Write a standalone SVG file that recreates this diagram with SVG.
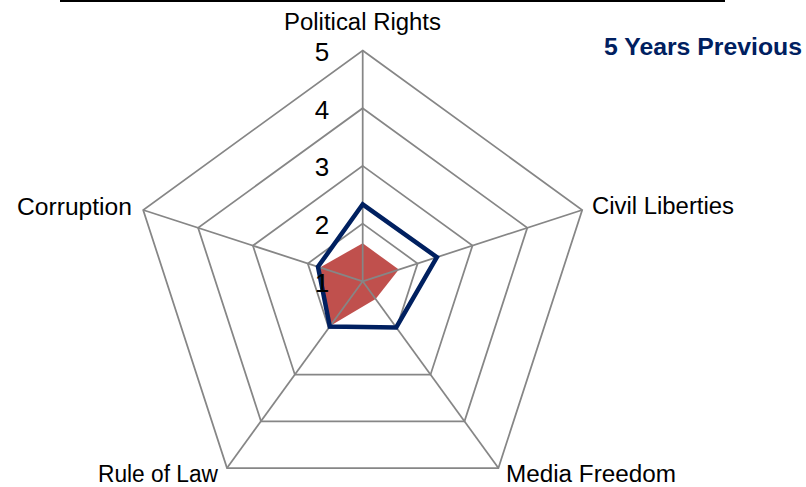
<svg xmlns="http://www.w3.org/2000/svg" width="806" height="487" viewBox="0 0 806 487">
  <style>
    .grid { fill: none; stroke: #868686; stroke-width: 1.75; stroke-linejoin: miter; }
    .lbl { font-family: "Liberation Sans", Arial, sans-serif; font-size: 23.5px; fill: #000; }
    .num { font-family: "Liberation Sans", Arial, sans-serif; font-size: 26px; fill: #000; text-anchor: middle; }
    .legend { font-family: "Liberation Sans", Arial, sans-serif; font-size: 24.5px; font-weight: bold; fill: #002060; }
  </style>
  <rect width="806" height="487" fill="#ffffff"/>
  <rect x="60" y="0" width="665" height="2" fill="#000000"/>

  <g id="current-series">
    <polygon points="362.7,243.3 398.8,269.6 375.6,299.1 330.4,325.8 319.9,267.4" fill="#C0504D"/>
  </g>

  <g id="grid">
    <polygon class="grid" points="362.7,223.6 417.6,263.5 396.6,328.0 328.8,328.0 307.8,263.5"/>
    <polygon class="grid" points="362.7,165.9 472.5,245.6 430.5,374.7 294.9,374.7 252.9,245.6"/>
    <polygon class="grid" points="362.7,108.2 527.3,227.8 464.5,421.3 261.0,421.3 198.1,227.8"/>
    <polygon class="grid" points="362.7,50.5 582.2,210.0 498.4,468.0 227.0,468.0 143.2,210.0"/>
    <line class="grid" x1="362.7" y1="281.3" x2="362.7" y2="50.5"/>
    <line class="grid" x1="362.7" y1="281.3" x2="582.2" y2="210.0"/>
    <line class="grid" x1="362.7" y1="281.3" x2="498.4" y2="468.0"/>
    <line class="grid" x1="362.7" y1="281.3" x2="227.0" y2="468.0"/>
    <line class="grid" x1="362.7" y1="281.3" x2="143.2" y2="210.0"/>
  </g>

  <g id="previous-series">
    <polygon points="362.7,204.3 436.9,257.2 396.2,327.4 329.8,326.6 318.0,266.8" fill="none" stroke="#002060" stroke-width="4.5" stroke-linejoin="miter"/>
  </g>

  <g id="scale">
    <text class="num" x="322" y="61">5</text>
    <text class="num" x="322" y="118.5">4</text>
    <text class="num" x="322" y="176">3</text>
    <text class="num" x="322" y="234">2</text>
    <text class="num" x="322" y="292">1</text>
  </g>

  <g id="axis-political-rights"><text class="lbl" x="284" y="30" textLength="157" lengthAdjust="spacingAndGlyphs">Political Rights</text></g>
  <g id="axis-civil-liberties"><text class="lbl" x="592" y="214" textLength="142" lengthAdjust="spacingAndGlyphs">Civil Liberties</text></g>
  <g id="axis-media-freedom"><text class="lbl" x="506" y="482" textLength="170" lengthAdjust="spacingAndGlyphs">Media Freedom</text></g>
  <g id="axis-rule-of-law"><text class="lbl" x="98" y="482" textLength="120" lengthAdjust="spacingAndGlyphs">Rule of Law</text></g>
  <g id="axis-corruption"><text class="lbl" x="17" y="215" textLength="115" lengthAdjust="spacingAndGlyphs">Corruption</text></g>

  <g id="legend"><text class="legend" x="604" y="55" textLength="198" lengthAdjust="spacingAndGlyphs">5 Years Previous</text></g>
</svg>
